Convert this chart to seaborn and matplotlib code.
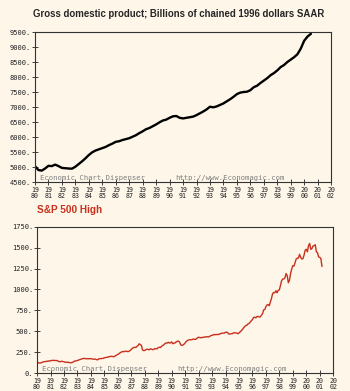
import numpy as np
import pandas as pd
import matplotlib
matplotlib.use('Agg')
import matplotlib.pyplot as plt
import seaborn as sns

gdp_values = [
    5030, 4900, 4880, 4950,
    5040, 5030, 5080, 5030,
    4970, 4960, 4950, 4945,
    5010, 5100, 5190, 5290,
    5400, 5490, 5550, 5590,
    5630, 5670, 5730, 5780,
    5840, 5860, 5900, 5930,
    5960, 6010, 6060, 6130,
    6190, 6260, 6300, 6360,
    6420, 6490, 6550, 6580,
    6640, 6690, 6700, 6640,
    6620, 6640, 6660, 6680,
    6730, 6790, 6850, 6920,
    7010, 6990, 7020, 7070,
    7120, 7190, 7260, 7340,
    7430, 7480, 7500, 7510,
    7560, 7660, 7710, 7800,
    7880, 7960, 8060, 8130,
    8220, 8330, 8400, 8500,
    8580, 8660, 8760, 8950,
    9210, 9350, 9440,
]

# S&P 500 monthly high, Jan 1980 .. Mar 2001
sp_values = [
    130, 125, 118, 120, 125, 130, 135, 137, 138, 140, 145, 142,
    148, 150, 152, 150, 150, 150, 148, 140, 135, 138, 140, 138,
    135, 130, 128, 130, 128, 125, 122, 125, 130, 140, 145, 145,
    150, 155, 160, 165, 170, 172, 175, 172, 170, 172, 170, 172,
    172, 168, 165, 168, 165, 160, 158, 170, 172, 172, 175, 175,
    182, 185, 188, 188, 195, 198, 200, 198, 195, 198, 208, 215,
    222, 232, 242, 250, 255, 258, 255, 262, 260, 255, 262, 268,
    285, 295, 305, 308, 305, 318, 330, 350, 340, 330, 275, 268,
    270, 280, 285, 282, 278, 290, 285, 280, 282, 292, 290, 290,
    305, 308, 305, 320, 330, 338, 352, 360, 358, 368, 358, 362,
    372, 350, 358, 360, 372, 380, 382, 370, 340, 330, 335, 345,
    360, 378, 388, 395, 398, 398, 398, 405, 405, 402, 408, 422,
    428, 425, 422, 425, 428, 428, 432, 435, 432, 432, 440, 448,
    450, 455, 462, 458, 460, 462, 460, 470, 472, 478, 476, 478,
    488, 490, 482, 465, 468, 470, 470, 480, 482, 480, 478, 470,
    480, 492, 505, 520, 538, 555, 568, 570, 588, 592, 610, 625,
    640, 665, 668, 660, 675, 678, 670, 672, 690, 710, 755, 760,
    795, 815, 820, 805, 850, 895, 950, 965, 960, 985, 960, 990,
    995, 1050, 1105, 1125, 1125, 1140, 1190, 1165, 1080, 1110, 1190, 1245,
    1285, 1280, 1320, 1365, 1375, 1375, 1420, 1385, 1365, 1368, 1410, 1470,
    1480, 1450, 1525, 1550, 1480, 1490, 1520, 1525, 1535, 1450, 1440, 1390,
    1385, 1370, 1275,
]

year_ticks = list(range(1980, 2003))
tick_labels = [f"{str(y)[:2]}\n{str(y)[2:]}" for y in year_ticks]

gdp = pd.DataFrame({'t': 1980 + np.arange(len(gdp_values)) / 4, 'v': gdp_values})
sp = pd.DataFrame({'t': 1980 + np.arange(len(sp_values)) / 12, 'v': sp_values})

bg = '#fdf6e9'
sns.set_style('ticks')
plt.rcParams['font.family'] = ['DejaVu Sans']

fig = plt.figure(figsize=(3.5, 3.91), dpi=100, facecolor=bg)
ax1 = fig.add_axes([0.100, 0.5345, 0.846, 0.3836], facecolor=bg)
ax2 = fig.add_axes([0.106, 0.046, 0.846, 0.374], facecolor=bg)

sns.lineplot(data=gdp, x='t', y='v', ax=ax1, color='black', linewidth=1.7)
sns.lineplot(data=sp, x='t', y='v', ax=ax2, color='#c8301e', linewidth=1.0)

mono = 'DejaVu Sans Mono'
for ax, ylim, yt in [(ax1, (4500, 9500), range(4500, 9501, 500)),
                     (ax2, (0, 1750), range(0, 1751, 250))]:
    ax.set_xlim(1980, 2002)
    ax.set_ylim(*ylim)
    ax.set_xticks(year_ticks)
    ax.set_xticklabels(tick_labels, fontsize=4.8, family=mono, linespacing=0.85)
    ax.set_yticks(list(yt))
    ax.set_yticklabels([f"{v}." for v in yt], fontsize=5, family=mono)
    ax.tick_params(direction='inout', length=4, width=0.6, pad=1, colors='#222222')
    ax.tick_params(axis='x', pad=1.8)
    ax.set_xlabel('')
    ax.set_ylabel('')
    for s in ax.spines.values():
        s.set_color('#333333')
        s.set_linewidth(0.8)
    ax.text(0.017, 0.008, 'Economic Chart Dispenser', transform=ax.transAxes,
            fontsize=5.2, family=mono, color='#808080', va='bottom', ha='left')
    ax.text(0.475, 0.008, 'http://www.Economagic.com', transform=ax.transAxes,
            fontsize=5.2, family=mono, color='#808080', va='bottom', ha='left')

fig.text(0.51, 0.964, 'Gross domestic product; Billions of chained 1996 dollars SAAR',
         ha='center', va='center', fontsize=6.9, fontweight='bold',
         family=['Liberation Sans'])
fig.text(0.106, 0.463, 'S&P 500 High', ha='left', va='center', fontsize=7.2,
         fontweight='bold', color='#c8301e', family=['Liberation Sans'])

fig.savefig('out.png', dpi=100, facecolor=bg)
